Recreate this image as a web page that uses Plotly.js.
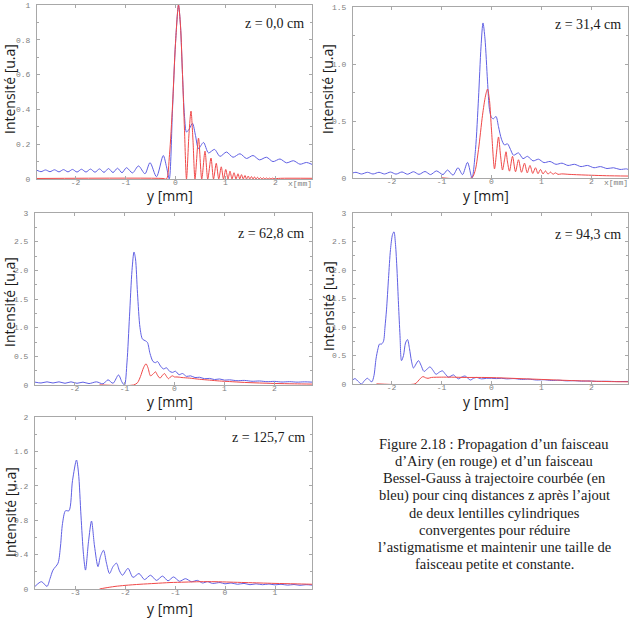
<!DOCTYPE html>
<html>
<head>
<meta charset="utf-8">
<script src="https://cdn.plot.ly/plotly-3.0.1.min.js"></script>
<style>
  html, body { margin: 0; padding: 0; background: #fff; }
  #chart { width: 632px; height: 624px; }
</style>
</head>
<body>
<div id="chart"></div>
<script>
// ---- z = 0,0 cm ----
const z0BesselX = [-2.77,-2.69,-2.60,-2.51,-2.42,-2.33,-2.24,-2.15,-2.06,-1.97,
  -1.88,-1.79,-1.70,-1.61,-1.52,-1.43,-1.34,-1.25,-1.16,-1.07,
  -0.98,-0.86,-0.74,-0.61,-0.51,-0.38,-0.245,-0.18,-0.125,-0.06,
  0.0,0.06,0.10,0.14,0.18,0.22,0.28,0.34,0.40,0.46,
  0.56,0.66,0.78,0.89,1.02,1.15,1.29,1.42,1.55,1.68,
  1.82,1.95,2.09,2.22,2.36,2.49,2.62,2.73];
const z0BesselY = [0.05,0.042,0.052,0.042,0.053,0.041,0.054,0.041,0.055,0.040,
  0.056,0.040,0.057,0.039,0.058,0.038,0.06,0.037,0.062,0.036,
  0.065,0.035,0.075,0.03,0.094,0.013,0.135,0.07,0.0,0.4,
  0.78,1.0,0.88,0.6,0.36,0.27,0.29,0.32,0.25,0.175,
  0.21,0.15,0.17,0.13,0.155,0.125,0.145,0.118,0.135,0.11,
  0.125,0.1,0.115,0.093,0.105,0.085,0.095,0.084];
const z0AiryX = [-2.77,-0.25,-0.18,-0.12,-0.06,0.0,0.06,0.10,0.14,0.18,
  0.22,0.27,0.31,0.35,0.39,0.46,0.525,0.59,0.645,0.71,
  0.76,0.815,0.865,0.915,0.96,1.005,1.05,1.09,1.13,1.17,
  1.21,1.25,1.285,1.32,1.355,1.39,1.42,1.455,1.485,1.52,
  1.55,1.58,1.61,1.64,1.67,1.70,1.73,1.76,1.79,1.82,
  1.85,1.88,1.91,1.94,1.97,2.10,2.73];
const z0AiryY = [0.003,0.003,0,0.14,0.42,0.78,1.0,0.88,0.6,0.28,
  0,0.26,0.39,0.22,0,0.235,0,0.16,0,0.12,
  0,0.09,0,0.07,0,0.055,0,0.045,0,0.036,
  0,0.03,0,0.025,0,0.02,0,0.017,0,0.014,
  0,0.012,0,0.01,0,0.008,0,0.007,0,0.006,
  0,0.005,0.001,0.005,0.002,0.004,0.004];

// ---- z = 31,4 cm ----
const z31BesselX = [-2.77,-2.71,-2.60,-2.48,-2.37,-2.25,-2.14,-2.02,-1.91,-1.79,
  -1.68,-1.56,-1.45,-1.33,-1.22,-1.10,-0.97,-0.88,-0.77,-0.67,
  -0.58,-0.48,-0.39,-0.32,-0.26,-0.21,-0.17,-0.13,-0.08,-0.04,
  0.0,0.04,0.09,0.14,0.20,0.26,0.32,0.38,0.44,0.54,
  0.63,0.72,0.83,0.94,1.05,1.17,1.29,1.41,1.53,1.66,
  1.79,1.92,2.05,2.18,2.31,2.44,2.57,2.70,2.73];
const z31BesselY = [0.045,0.05,0.035,0.05,0.035,0.05,0.035,0.052,0.034,0.053,
  0.033,0.055,0.032,0.057,0.03,0.062,0.03,0.07,0.025,0.09,
  0.03,0.137,0.0,0.25,0.7,1.15,1.36,1.22,0.85,0.6,
  0.53,0.52,0.54,0.45,0.34,0.29,0.30,0.25,0.20,0.22,
  0.17,0.19,0.15,0.165,0.135,0.145,0.12,0.13,0.11,0.12,
  0.1,0.11,0.09,0.1,0.083,0.09,0.075,0.08,0.075];
const z31AiryX = [-1.0,-0.40,-0.33,-0.26,-0.18,-0.12,-0.08,-0.04,0.0,0.06,
  0.10,0.14,0.18,0.22,0.26,0.29,0.32,0.36,0.42,0.48,
  0.54,0.60,0.66,0.715,0.77,0.825,0.88,0.93,0.98,1.03,
  1.08,1.13,1.18,1.23,1.28,1.33,1.40,1.55,1.75,2.0,
  2.3,2.73];
const z31AiryY = [0.002,0.0,0.06,0.25,0.55,0.72,0.78,0.68,0.42,0.08,
  0.22,0.36,0.2,0.07,0.16,0.23,0.14,0.06,0.19,0.055,
  0.16,0.05,0.13,0.045,0.11,0.04,0.09,0.038,0.075,0.036,
  0.062,0.034,0.052,0.033,0.045,0.032,0.036,0.032,0.028,0.024,
  0.02,0.017];

// ---- z = 62,8 cm ----
const z62BesselX = [-2.79,-2.67,-2.55,-2.43,-2.31,-2.19,-2.07,-1.95,-1.83,-1.71,
  -1.56,-1.43,-1.33,-1.23,-1.12,-1.05,-1.0,-0.95,-0.90,-0.85,
  -0.81,-0.78,-0.74,-0.69,-0.64,-0.58,-0.54,-0.49,-0.43,-0.38,
  -0.34,-0.28,-0.22,-0.16,-0.10,-0.04,0.02,0.09,0.16,0.24,
  0.32,0.41,0.50,0.60,0.70,0.80,0.90,1.00,1.10,1.25,
  1.40,1.55,1.70,1.85,2.00,2.15,2.30,2.45,2.60,2.75];
const z62BesselY = [0.05,0.035,0.055,0.035,0.055,0.03,0.055,0.03,0.05,0.025,
  0.055,0.02,0.09,0.03,0.175,0.05,0.0,0.4,1.2,2.0,
  2.32,2.2,1.6,1.0,0.8,0.77,0.74,0.55,0.41,0.39,
  0.41,0.33,0.28,0.30,0.24,0.22,0.24,0.18,0.2,0.15,
  0.16,0.13,0.135,0.11,0.115,0.095,0.105,0.085,0.09,0.075,
  0.08,0.065,0.07,0.058,0.063,0.052,0.058,0.05,0.055,0.05];
const z62AiryX = [-1.5,-0.82,-0.74,-0.68,-0.62,-0.57,-0.53,-0.48,-0.43,-0.38,
  -0.34,-0.29,-0.24,-0.20,-0.16,-0.12,-0.08,-0.04,0.0,0.05,
  0.15,0.3,0.5,0.7,0.9,1.1,1.4,1.7,2.0,2.4,
  2.75];
const z62AiryY = [0.002,0.0,0.04,0.15,0.3,0.37,0.3,0.16,0.19,0.23,
  0.17,0.12,0.17,0.2,0.15,0.11,0.14,0.16,0.14,0.14,
  0.13,0.12,0.1,0.085,0.07,0.06,0.045,0.035,0.027,0.02,
  0.016];

// ---- z = 94,3 cm ----
const z94BesselX = [-2.77,-2.73,-2.66,-2.60,-2.54,-2.48,-2.42,-2.39,-2.35,-2.31,
  -2.27,-2.24,-2.20,-2.16,-2.13,-2.10,-2.06,-2.02,-1.98,-1.95,
  -1.92,-1.89,-1.86,-1.83,-1.80,-1.76,-1.72,-1.68,-1.64,-1.60,
  -1.56,-1.51,-1.46,-1.41,-1.35,-1.29,-1.23,-1.17,-1.11,-1.04,
  -0.98,-0.92,-0.86,-0.81,-0.76,-0.71,-0.66,-0.60,-0.53,-0.47,
  -0.42,-0.36,-0.30,-0.2,-0.1,0.0,0.1,0.2,0.3,0.45,
  0.6,0.75,0.9,1.05,1.2,1.35,1.5,1.65,1.8,1.95,
  2.1,2.3,2.5,2.73];
const z94BesselY = [0.075,0.095,0.04,0.0,0.06,0.1,0.05,0.04,0.15,0.44,
  0.62,0.70,0.70,0.75,1.0,1.3,1.85,2.36,2.62,2.67,
  2.45,2.0,1.4,0.85,0.41,0.5,0.72,0.78,0.62,0.4,
  0.28,0.35,0.41,0.33,0.22,0.26,0.30,0.24,0.17,0.21,
  0.23,0.17,0.12,0.14,0.16,0.12,0.09,0.12,0.14,0.1,
  0.07,0.1,0.115,0.09,0.1,0.1,0.095,0.1,0.09,0.095,
  0.08,0.085,0.07,0.075,0.062,0.066,0.055,0.058,0.05,0.053,
  0.046,0.048,0.043,0.045];
const z94AiryX = [-2.3,-1.53,-1.47,-1.42,-1.37,-1.32,-1.27,-1.2,-1.0,-0.8,
  -0.5,-0.2,0.1,0.4,0.7,1.0,1.3,1.6,2.0,2.4,
  2.73];
const z94AiryY = [0.003,0.003,0.05,0.1,0.13,0.11,0.1,0.115,0.12,0.12,
  0.115,0.115,0.11,0.1,0.09,0.08,0.07,0.06,0.05,0.042,
  0.038];

// ---- z = 125,7 cm ----
const z125BesselX = [-3.80,-3.67,-3.56,-3.50,-3.44,-3.34,-3.29,-3.25,-3.19,-3.12,
  -3.05,-2.97,-2.93,-2.88,-2.83,-2.79,-2.73,-2.67,-2.61,-2.54,
  -2.49,-2.43,-2.37,-2.31,-2.24,-2.17,-2.11,-2.05,-1.94,-1.84,
  -1.72,-1.61,-1.49,-1.37,-1.25,-1.14,-1.03,-0.91,-0.79,-0.67,
  -0.55,-0.45,-0.35,-0.25,-0.10,0.0,0.12,0.25,0.38,0.50,
  0.62,0.75,0.88,1.0,1.12,1.25,1.38,1.50,1.62,1.74];
const z125BesselY = [0.03,0.085,0.03,0.12,0.22,0.30,0.5,0.76,0.91,0.91,
  1.26,1.5,1.35,0.85,0.4,0.22,0.55,0.79,0.5,0.26,
  0.38,0.45,0.3,0.18,0.26,0.30,0.21,0.16,0.24,0.135,
  0.18,0.11,0.16,0.10,0.15,0.095,0.14,0.09,0.12,0.085,
  0.1,0.07,0.085,0.065,0.075,0.06,0.07,0.055,0.065,0.05,
  0.06,0.05,0.058,0.048,0.055,0.045,0.052,0.043,0.05,0.045];
const z125AiryX = [-2.51,-2.4,-2.2,-2.0,-1.7,-1.4,-1.1,-0.8,-0.5,-0.2,
  0.1,0.4,0.7,1.0,1.4,1.74];
const z125AiryY = [0.0,0.012,0.03,0.042,0.055,0.065,0.075,0.08,0.085,0.085,
  0.08,0.075,0.07,0.065,0.06,0.055];

// ---- labels ----
const zLabels = ['z = 0,0 cm', 'z = 31,4 cm', 'z = 62,8 cm', 'z = 94,3 cm', 'z = 125,7 cm'];
const xTickVals = [-2, -1, 0, 1, 2];
const xTickText = ['-2', '-1', '0', '1', '2'];
const xTickVals5 = [-3, -2, -1, 0, 1];
const xTickText5 = ['-3', '-2', '-1', '0', '1'];
const yTickVals1 = [0, 0.2, 0.4, 0.6, 0.8, 1];
const yTickText1 = ['0', '0.2', '0.4', '0.6', '0.8', '1'];
const yTickVals2 = [0, 0.5, 1, 1.5];
const yTickText2 = ['0', '0.5', '1.0', '1.5'];
const yTickVals3 = [0, 0.5, 1, 1.5, 2, 2.5, 3];
const yTickText3 = ['0', '0.5', '1.0', '1.5', '2.0', '2.5', '3'];
const yTickVals5 = [0, 0.4, 0.8, 1.2, 1.6, 2];
const yTickText5 = ['0', '0.4', '0.8', '1.2', '1.6', '2'];
const yTitle = 'Intensité [u.a]';
const xTitle = 'y [mm]';
const unitLabel = 'x[mm]';
const captionLines = [
  'Figure 2.18 : Propagation d’un faisceau',
  'd’Airy (en rouge) et d’un faisceau',
  'Bessel-Gauss à trajectoire courbée (en',
  'bleu) pour cinq distances z après l’ajout',
  'de deux lentilles cylindriques',
  'convergentes pour réduire',
  'l’astigmatisme et maintenir une taille de',
  'faisceau petite et constante.'
];

// sanity check on paired arrays
const pairs = {
  z0Bessel: [z0BesselX, z0BesselY], z0Airy: [z0AiryX, z0AiryY],
  z31Bessel: [z31BesselX, z31BesselY], z31Airy: [z31AiryX, z31AiryY],
  z62Bessel: [z62BesselX, z62BesselY], z62Airy: [z62AiryX, z62AiryY],
  z94Bessel: [z94BesselX, z94BesselY], z94Airy: [z94AiryX, z94AiryY],
  z125Bessel: [z125BesselX, z125BesselY], z125Airy: [z125AiryX, z125AiryY]
};
for (const k in pairs) {
  if (pairs[k][0].length !== pairs[k][1].length) {
    throw new Error(k + ' length ' + pairs[k][0].length + ' vs ' + pairs[k][1].length);
  }
}

// ---- page geometry (pixels) ----
const W = 632, H = 624;
const PX = p => p / W;
const PY = p => 1 - p / H;

const panels = [
  { box: [37, 312, 5, 179],   xr: [-2.77, 2.73], yr: [0, 1],   xt: [xTickVals, xTickText],   yt: [yTickVals1, yTickText1], minor: 0.1,
    blue: [z0BesselX, z0BesselY],   red: [z0AiryX, z0AiryY],   unit: true },
  { box: [353, 628, 7, 178],  xr: [-2.77, 2.73], yr: [0, 1.5], xt: [xTickVals, xTickText],   yt: [yTickVals2, yTickText2], minor: 0.25,
    blue: [z31BesselX, z31BesselY], red: [z31AiryX, z31AiryY], unit: true },
  { box: [35, 312, 213, 385], xr: [-2.79, 2.75], yr: [0, 3],   xt: [xTickVals, xTickText],   yt: [yTickVals3, yTickText3], minor: 0.25,
    blue: [z62BesselX, z62BesselY], red: [z62AiryX, z62AiryY], unit: false },
  { box: [353, 628, 213, 384],xr: [-2.77, 2.73], yr: [0, 3],   xt: [xTickVals, xTickText],   yt: [yTickVals3, yTickText3], minor: 0.25,
    blue: [z94BesselX, z94BesselY], red: [z94AiryX, z94AiryY], unit: false },
  { box: [35, 312, 417, 589], xr: [-3.8, 1.74],  yr: [0, 2],   xt: [xTickVals5, xTickText5], yt: [yTickVals5, yTickText5], minor: 0.2,
    blue: [z125BesselX, z125BesselY], red: [z125AiryX, z125AiryY], unit: false }
];

const BLUE = 'rgb(96,96,228)';
const RED = 'rgb(240,72,72)';
const FRAME = '#a8a8a8';
const TICKFONT = { family: 'Liberation Mono, DejaVu Sans Mono, monospace', size: 8, color: '#808080' };
const SANS = 'Open Sans, Noto Sans, DejaVu Sans, sans-serif';
const SERIF = 'Liberation Serif, DejaVu Serif, serif';

const traces = [];
const layout = {
  width: W, height: H,
  margin: { l: 0, r: 0, t: 0, b: 0 },
  paper_bgcolor: '#fff', plot_bgcolor: '#fff',
  showlegend: false,
  annotations: []
};

// per-panel label centres (pixels)
const zLabelPos = [[306, 24], [623, 25], [306, 233], [623, 234], [307, 437]];
const yTitlePos = [[10, 89], [328, 89], [9, 302], [328, 306], [10, 512]];
const xTitlePos = [[170, 195], [486, 195], [169.5, 401], [486, 401], [169.5, 608]];

panels.forEach((p, i) => {
  const n = i === 0 ? '' : String(i + 1);
  const [x0, x1, y0, y1] = p.box;
  layout['xaxis' + n] = {
    domain: [PX(x0), PX(x1)], range: p.xr, anchor: 'y' + n,
    tickmode: 'array', tickvals: p.xt[0], ticktext: p.xt[1],
    ticks: 'inside', ticklen: 3, tickcolor: FRAME, tickfont: TICKFONT,
    showline: true, linecolor: FRAME, linewidth: 1, mirror: 'ticks',
    showgrid: false, zeroline: false, fixedrange: true, ticklabelstandoff: -5
  };
  layout['yaxis' + n] = {
    domain: [PY(y1), PY(y0)], range: p.yr, anchor: 'x' + n,
    tickmode: 'array', tickvals: p.yt[0], ticktext: p.yt[1],
    ticks: 'inside', ticklen: 3, tickcolor: FRAME, tickfont: TICKFONT,
    minor: { dtick: p.minor, ticks: 'inside', ticklen: 2, tickcolor: FRAME, showgrid: false },
    showline: true, linecolor: FRAME, linewidth: 1, mirror: 'ticks',
    showgrid: false, zeroline: false, fixedrange: true, ticklabelstandoff: 4
  };
  traces.push({
    type: 'scatter', mode: 'lines', x: p.blue[0], y: p.blue[1],
    xaxis: 'x' + n, yaxis: 'y' + n,
    line: { color: BLUE, width: 1, shape: 'spline', smoothing: 0.8 },
    hoverinfo: 'skip'
  });
  traces.push({
    type: 'scatter', mode: 'lines', x: p.red[0], y: p.red[1],
    xaxis: 'x' + n, yaxis: 'y' + n,
    line: { color: RED, width: 1, shape: 'spline', smoothing: 0.8 },
    hoverinfo: 'skip'
  });

  layout.annotations.push({
    xref: 'paper', yref: 'paper', x: PX(zLabelPos[i][0]), y: PY(zLabelPos[i][1]),
    xanchor: 'right', yanchor: 'middle', showarrow: false,
    text: zLabels[i], font: { family: SERIF, size: 14, color: '#1a1a1a' }
  });
  layout.annotations.push({
    xref: 'paper', yref: 'paper', x: PX(yTitlePos[i][0]), y: PY(yTitlePos[i][1]),
    xanchor: 'center', yanchor: 'middle', showarrow: false, textangle: -90,
    text: yTitle, font: { family: SANS, size: 14, color: '#1a1a1a' }
  });
  layout.annotations.push({
    xref: 'paper', yref: 'paper', x: PX(xTitlePos[i][0]), y: PY(xTitlePos[i][1]),
    xanchor: 'center', yanchor: 'middle', showarrow: false, borderpad: 0,
    text: xTitle, font: { family: SANS, size: 14, color: '#1a1a1a' }
  });
  if (p.unit) {
    layout.annotations.push({
      xref: 'paper', yref: 'paper', x: PX(x1 + 1), y: PY(y1 + 4.5),
      xanchor: 'right', yanchor: 'middle', showarrow: false, borderpad: 0,
      text: unitLabel, font: TICKFONT
    });
  }
});

// caption block, one annotation per line
captionLines.forEach((line, k) => {
  layout.annotations.push({
    xref: 'paper', yref: 'paper', x: PX(494.5), y: PY(444.3 + 17.14 * k),
    xanchor: 'center', yanchor: 'middle', showarrow: false,
    text: line, font: { family: SERIF, size: 14.5, color: '#1a1a1a' }
  });
});

Plotly.newPlot('chart', traces, layout, { displayModeBar: false, staticPlot: true });
</script>
</body>
</html>
